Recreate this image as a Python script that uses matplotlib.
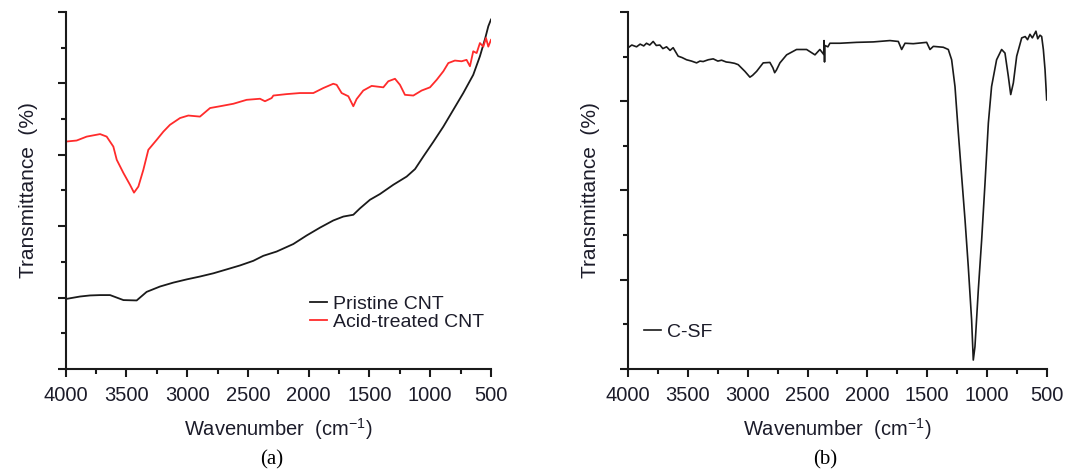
import matplotlib
matplotlib.use("Agg")
import matplotlib.pyplot as plt
from matplotlib.ticker import MultipleLocator

# ---------------- data ----------------
acid_wn = [4000, 3910, 3827, 3717, 3663, 3608, 3580, 3525, 3471, 3438, 3402, 3361, 3320,
           3251, 3196, 3142, 3059, 2991, 2895, 2812, 2730, 2620, 2511, 2401, 2360, 2305,
           2291, 2182, 2072, 1962, 1880, 1798, 1770, 1729, 1674, 1633, 1606, 1551, 1482,
           1386, 1345, 1290, 1249, 1208, 1139, 1071, 1002, 947, 892, 851, 797, 742, 701,
           673, 646, 618, 591, 563, 541, 522, 500]
acid_t = [6.37, 6.40, 6.51, 6.58, 6.51, 6.23, 5.86, 5.49, 5.16, 4.94, 5.11, 5.58, 6.14,
          6.42, 6.65, 6.84, 7.03, 7.10, 7.07, 7.31, 7.36, 7.43, 7.54, 7.57, 7.50, 7.59,
          7.66, 7.70, 7.73, 7.73, 7.87, 7.99, 7.96, 7.73, 7.64, 7.36, 7.56, 7.80, 7.93,
          7.89, 8.06, 8.13, 7.96, 7.68, 7.66, 7.80, 7.89, 8.10, 8.34, 8.57, 8.64, 8.62, 8.66,
          8.48, 8.90, 8.85, 9.13, 9.03, 9.27, 9.03, 9.22]

pristine_wn = [4000, 3882, 3800, 3717, 3635, 3525, 3416, 3334, 3224, 3114, 3004, 2895,
               2785, 2675, 2566, 2456, 2374, 2264, 2127, 2017, 1907, 1798, 1715, 1633,
               1578, 1496, 1414, 1304, 1194, 1125, 1057, 975, 892, 810, 728, 646, 591,
               547, 522, 500]
pristine_t = [1.96, 2.03, 2.06, 2.07, 2.07, 1.93, 1.92, 2.16, 2.31, 2.42, 2.51, 2.59,
              2.68, 2.79, 2.90, 3.03, 3.17, 3.29, 3.50, 3.74, 3.96, 4.16, 4.27, 4.32,
              4.50, 4.74, 4.90, 5.16, 5.39, 5.60, 5.95, 6.36, 6.79, 7.26, 7.73, 8.24, 8.76,
              9.27, 9.60, 9.79]

csf_wn = [4000, 3970, 3930, 3900, 3870, 3847, 3820, 3791, 3765, 3735, 3710, 3679, 3650,
          3624, 3582, 3550, 3512, 3470, 3428, 3400, 3373, 3330, 3289, 3250, 3219, 3180,
          3149, 3110, 3080, 3024, 2982, 2960, 2926, 2871, 2815, 2790, 2775, 2760, 2731,
          2675, 2592, 2508, 2438, 2397, 2365, 2362, 2358, 2355, 2330, 2313, 2229, 2090,
          1950, 1811, 1741, 1713, 1685, 1616, 1504, 1476, 1448, 1365, 1323, 1295, 1267,
          1239, 1211, 1183, 1156, 1128, 1114, 1100, 1072, 1044, 1016, 988, 961, 919, 877,
          849, 821, 801, 779, 751, 709, 680, 660, 640, 620, 590, 575, 556, 542, 528, 514, 500]
csf_t = [7.20, 7.26, 7.22, 7.28, 7.24, 7.30, 7.26, 7.34, 7.25, 7.26, 7.18, 7.22, 7.14,
         7.20, 7.01, 6.98, 6.93, 6.90, 6.86, 6.90, 6.89, 6.93, 6.95, 6.90, 6.92, 6.88,
         6.87, 6.85, 6.82, 6.67, 6.54, 6.58, 6.67, 6.86, 6.87, 6.75, 6.64, 6.70, 6.86,
         7.04, 7.16, 7.16, 7.04, 7.16, 7.05, 7.36, 6.88, 7.25, 7.22, 7.30, 7.30, 7.32,
         7.33, 7.36, 7.34, 7.16, 7.30, 7.29, 7.32, 7.16, 7.23, 7.21, 7.16, 6.93, 6.33,
         5.29, 4.31, 3.34, 2.30, 1.10, 0.20, 0.50, 1.77, 2.89, 4.16, 5.51, 6.33, 6.93, 7.16,
         7.08, 6.56, 6.15, 6.41, 7.01, 7.42, 7.45, 7.38, 7.50, 7.42, 7.57, 7.40, 7.48, 7.45,
         7.16, 6.71, 6.03]

x_ticks = [4000, 3500, 3000, 2500, 2000, 1500, 1000, 500]
x_tick_labels = ["4000", "3500", "3000", "2500", "2000", "1500", "1000", "500"]

# ---------------- style ----------------
SANS = ["Liberation Sans", "DejaVu Sans"]
plt.rcParams["font.family"] = SANS
plt.rcParams["mathtext.fontset"] = "custom"
plt.rcParams["mathtext.rm"] = "Liberation Sans"
plt.rcParams["mathtext.it"] = "Liberation Sans"
TXT = "#1c1c2a"
BLK = "#1a1a1a"
RED = "#ff2b2b"
W, H = 1072, 471

fig = plt.figure(figsize=(W / 100, H / 100), dpi=100)
axA = fig.add_axes([0.0613, 0.2166, 0.3967, 0.7579])
axB = fig.add_axes([0.586, 0.2166, 0.3904, 0.7579])


def style(ax, ymax, ymajor):
    ax.set_xlim(4000, 500)
    ax.set_ylim(0, ymax)
    for s in ["top", "right"]:
        ax.spines[s].set_visible(False)
    for s in ["left", "bottom"]:
        ax.spines[s].set_linewidth(1.5)
        ax.spines[s].set_color(BLK)
    ax.set_xticks(x_ticks)
    ax.set_xticklabels(x_tick_labels)
    ax.xaxis.set_minor_locator(MultipleLocator(250))
    ax.yaxis.set_major_locator(MultipleLocator(ymajor))
    ax.yaxis.set_minor_locator(MultipleLocator(ymajor / 2))
    ax.tick_params(axis="both", which="major", length=6, width=1.5, color=BLK,
                   direction="out", labelsize=14.5, labelcolor=TXT, pad=6)
    ax.tick_params(axis="both", which="minor", length=3.5, width=1.5, color=BLK,
                   direction="out")
    ax.tick_params(axis="y", which="both", labelleft=False)
    ax.set_xlabel("Wavenumber  (cm$^{\\mathregular{-1}}$)", fontsize=14.5, color=TXT,
                  labelpad=8)
    ax.set_ylabel("Transmittance  (%)", fontsize=15, color=TXT, labelpad=14)


style(axA, 10, 2)
style(axB, 8, 2)

axA.plot(pristine_wn, pristine_t, color=BLK, lw=1.3, label="Pristine CNT")
axA.plot(acid_wn, acid_t, color=RED, lw=1.3, label="Acid-treated CNT")
axA.legend(loc="center left", bbox_to_anchor=(310 / W, 1 - 313 / H),
           bbox_transform=fig.transFigure, frameon=False, fontsize=14,
           handlelength=0.85, handletextpad=0.35, labelspacing=0.0,
           labelcolor=TXT, borderaxespad=0, borderpad=0)

axB.plot(csf_wn, csf_t, color=BLK, lw=1.2, label="C-SF")
axB.legend(loc="center left", bbox_to_anchor=(644 / W, 1 - 332 / H),
           bbox_transform=fig.transFigure, frameon=False, fontsize=14,
           handlelength=0.85, handletextpad=0.35, labelcolor=TXT,
           borderaxespad=0, borderpad=0)

fig.text(272 / W, 1 - 460 / H, "(a)", ha="center", va="center", fontsize=15,
         family=["Liberation Serif", "DejaVu Serif"], color="black")
fig.text(825 / W, 1 - 460 / H, "(b)", ha="center", va="center", fontsize=15,
         family=["Liberation Serif", "DejaVu Serif"], color="black")

fig.savefig("out.png", dpi=100)
